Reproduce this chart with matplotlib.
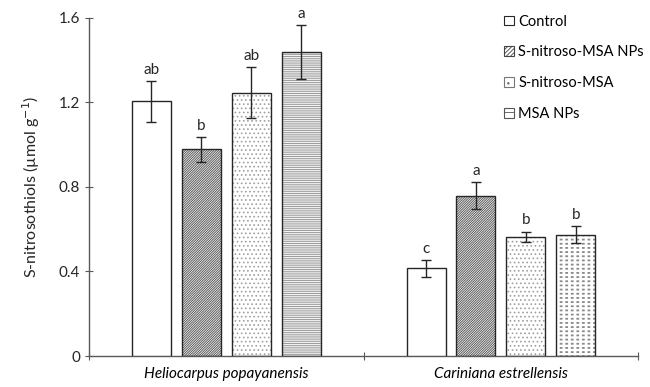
import matplotlib.pyplot as plt
import matplotlib.patches as mpatches
import numpy as np

plt.rcParams['font.family'] = ['Lato', 'DejaVu Sans']
plt.rcParams['hatch.linewidth'] = 0.7

species = ['Heliocarpus popayanensis', 'Cariniana estrellensis']
treatments = ['Control', 'S-nitroso-MSA NPs', 'S-nitroso-MSA', 'MSA NPs']

means = {
    'Control':           [1.205, 0.415],
    'S-nitroso-MSA NPs': [0.978, 0.759],
    'S-nitroso-MSA':     [1.246, 0.565],
    'MSA NPs':           [1.439, 0.573],
}
errors = {
    'Control':           [0.097, 0.040],
    'S-nitroso-MSA NPs': [0.058, 0.065],
    'S-nitroso-MSA':     [0.120, 0.024],
    'MSA NPs':           [0.127, 0.040],
}
letters = {
    'Control':           ['ab', 'c'],
    'S-nitroso-MSA NPs': ['b', 'a'],
    'S-nitroso-MSA':     ['ab', 'b'],
    'MSA NPs':           ['a', 'b'],
}

edge = '#262626'
fig = plt.figure(figsize=(6.5, 3.87), dpi=100)
ax = fig.add_axes([0.137, 0.080, 0.845, 0.874])

width = 0.142
step = 0.182
centers = np.array([0.5, 1.5])

styles = {
    'Control':           dict(hatch=None, hc=edge),
    'S-nitroso-MSA NPs': dict(hatch='/' * 14, hc='#5a5a5a'),
    'S-nitroso-MSA':     dict(hatch='....', hc='#a0a0a0'),
    'MSA NPs':           dict(hatch='-' * 9, hc='#9a9a9a'),
}

for i, t in enumerate(treatments):
    xs = centers + (i - 1.5) * step
    for j, x in enumerate(xs):
        h = means[t][j]
        st = styles[t]
        if t == 'MSA NPs' and j == 1:
            # dashed pattern: horizontal lines cut by white verticals
            plt.rcParams['hatch.linewidth'] = 1.3
            ax.bar(x, h, width, color='white', edgecolor='#8a8a8a',
                   hatch='-' * 4, linewidth=0, zorder=2)
            plt.rcParams['hatch.linewidth'] = 2.0
            ax.bar(x, h, width, color='none', edgecolor='white',
                   hatch='|' * 3, linewidth=0, zorder=2.1)
            plt.rcParams['hatch.linewidth'] = 0.6
        elif st['hatch']:
            ax.bar(x, h, width, color='white', edgecolor=st['hc'],
                   hatch=st['hatch'], linewidth=0, zorder=2)
        ax.bar(x, h, width, color='none' if st['hatch'] else 'white',
               edgecolor=edge, linewidth=1.0, zorder=3)
        ax.errorbar(x, h, yerr=errors[t][j], fmt='none', ecolor=edge,
                    elinewidth=1.0, capsize=3.5, capthick=1.0, zorder=4)
        ax.text(x, h + errors[t][j] + 0.02, letters[t][j], ha='center',
                va='bottom', fontsize=11, color='#262626')

ax.set_xlim(0, 2)
ax.set_ylim(0, 1.6)
ax.set_yticks([0, 0.4, 0.8, 1.2, 1.6])
ax.set_yticklabels(['0', '0.4', '0.8', '1.2', '1.6'])
ax.set_xticks([0, 1, 2])
ax.set_xticklabels([])
ax.set_xticks(centers, minor=True)
ax.set_xticklabels(species, minor=True, style='italic')
ax.tick_params(axis='x', which='minor', length=0, pad=8, labelsize=11)
ax.tick_params(axis='both', which='major', direction='inout', length=6,
               color='#595959', labelsize=11, labelcolor='#262626')
ax.set_ylabel('S-nitrosothiols (µmol g$^{-1}$)', fontsize=11.5,
              color='#262626', labelpad=12)

for s in ['top', 'right']:
    ax.spines[s].set_visible(False)
for s in ['left', 'bottom']:
    ax.spines[s].set_color('#595959')
    ax.spines[s].set_linewidth(1.0)

handles = [
    mpatches.Patch(facecolor='white', edgecolor=edge, linewidth=0.8),
    mpatches.Patch(facecolor='white', edgecolor='#444444', hatch='/' * 8, linewidth=0.8),
    mpatches.Patch(facecolor='white', edgecolor='#777777', hatch='..', linewidth=0.8),
    mpatches.Patch(facecolor='white', edgecolor='#555555', hatch='--', linewidth=0.8),
]
ax.legend(handles, treatments, loc='upper left', bbox_to_anchor=(0.74, 1.035),
          frameon=False, fontsize=10.5, handlelength=0.65, handleheight=0.65,
          handletextpad=0.3, labelspacing=1.15, borderaxespad=0.2)

fig.savefig('out.png', dpi=100)
